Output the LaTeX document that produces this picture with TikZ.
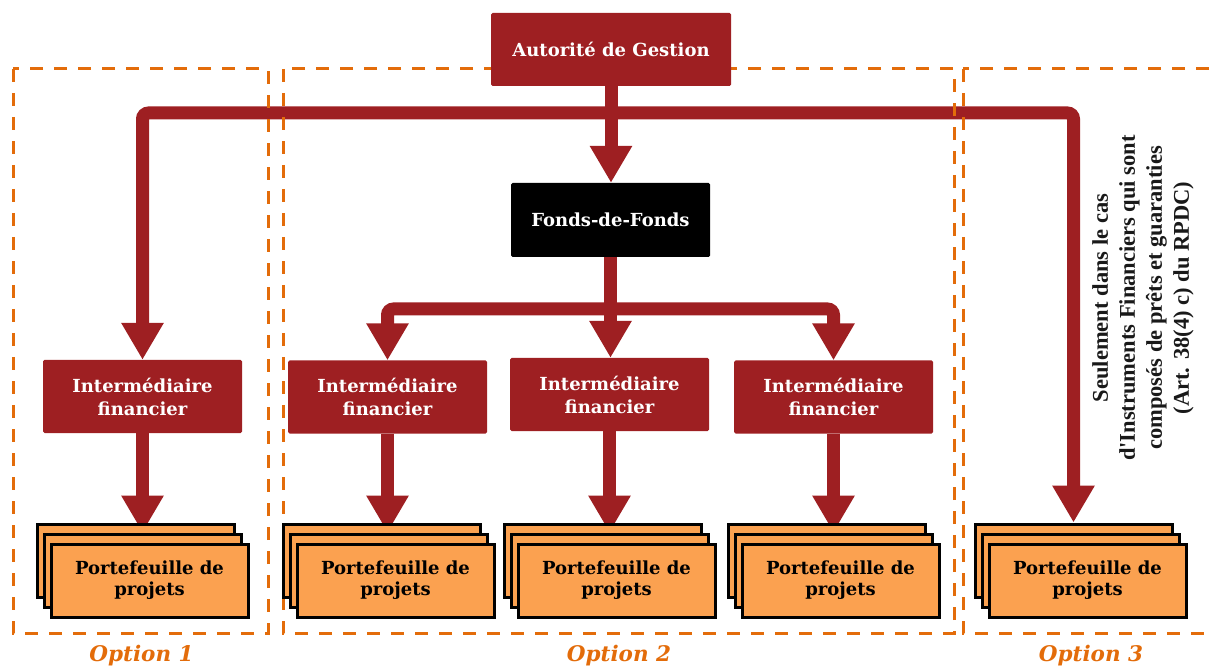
\documentclass[tikz,border=0pt]{standalone}
\usepackage{fontspec}
\setmainfont{DejaVu Serif}
\newfontfamily\notefont{Liberation Serif}
\usetikzlibrary{arrows.meta,backgrounds}
\definecolor{agred}{HTML}{9E1F22}
\definecolor{optorange}{HTML}{E36C0A}
\definecolor{pforange}{HTML}{FBA150}
\tikzset{
  redbox/.style={
    rectangle,
    fill=agred,
    rounded corners=1.5pt,
    minimum width=199pt,
    minimum height=73pt,
    inner sep=0pt,
    align=center,
    text=white,
    font=\bfseries\fontsize{18}{23}\selectfont
  },
  fofbox/.style={redbox, fill=black},
  pflayer/.style={
    rectangle,
    draw=black,
    line width=3pt,
    fill=pforange,
    minimum width=197pt,
    minimum height=73pt,
    inner sep=0pt,
    align=center,
    font=\bfseries\fontsize{18}{21}\selectfont
  },
  optbox/.style={
    draw=optorange,
    line width=3pt,
    dash pattern=on 13pt off 11pt
  },
  optlabel/.style={
    text=optorange,
    font=\bfseries\itshape\fontsize{21.5}{24}\selectfont
  },
  flow/.style={
    draw=agred,
    line width=13pt,
    rounded corners=6pt,
    -{Triangle[width=40pt,length=37pt]}
  }
}
% stack of three portfolio sheets: name, left x of the back sheet
\newcommand{\pfstack}[2]{%
  \node[pflayer] (#1-1) at (#2+98.5,560.5) {};
  \node[pflayer] (#1-2) at (#2+105.5,570.5) {};
  \node[pflayer] (#1) at (#2+112.5,580.5) {Portefeuille de\\projets};
}

\begin{document}
\begin{tikzpicture}[x=1pt,y=-1pt]
\useasboundingbox (0,0) rectangle (1211,668);

% option frames
\draw[optbox] (13,69) rectangle (268,633);
\draw[optbox] (283,69) rectangle (954,633);
\draw[optbox] (963,69) rectangle (1230,633);

\node[redbox, minimum width=240pt] (ag) at (611,49.5) {Autorité de Gestion};
\node[fofbox, minimum height=74pt] (fdf) at (610.5,220) {Fonds-de-Fonds};

\node[redbox] (if1) at (142.5,396.5) {Intermédiaire\\financier};
\node[redbox] (if2) at (387.5,397) {Intermédiaire\\financier};
\node[redbox] (if3) at (609.5,394.5) {Intermédiaire\\financier};
\node[redbox] (if4) at (833.5,397) {Intermédiaire\\financier};

\pfstack{p1}{37}
\pfstack{p2}{283}
\pfstack{p3}{504}
\pfstack{p4}{728}
\pfstack{p5}{975}

\node[rotate=90, align=center, text=black!90,
  font=\notefont\bfseries\fontsize{22.5}{27}\selectfont] (note) at (1143,298)
  {Seulement dans le cas\\d'Instruments Financiers qui sont\\composés de prêts et guaranties\\(Art. 38(4) c) du RPDC)};

\node[optlabel] (opt1) at (141.5,656) {Option 1};
\node[optlabel] (opt2) at (619,656) {Option 2};
\node[optlabel] (opt3) at (1091,656) {Option 3};

% connectors
\begin{scope}[on background layer]
\coordinate (topsplit) at (611,113);
\coordinate (midsplit) at (610.5,309);
\draw[flow] (ag.south) -- (ag.south |- fdf.north);
\draw[flow] (topsplit) -| (if1.north);
\draw[flow] (topsplit) -| (p5-1.north);
\draw[flow] (fdf.south) -- (fdf.south |- if3.north);
\draw[flow] (midsplit) -| (if2.north);
\draw[flow] (midsplit) -| (if4.north);
\foreach \i in {1,...,4}
  \draw[flow] (if\i.south) -- (if\i.south |- p\i-2.north);
\end{scope}
\end{tikzpicture}
\end{document}
